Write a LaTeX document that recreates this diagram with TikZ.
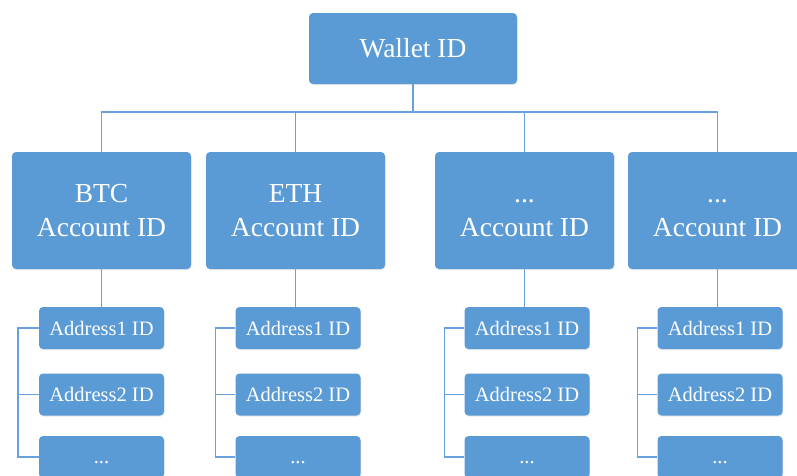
\documentclass[tikz,border=0pt]{standalone}
\usepackage{fontspec}
\setmainfont{Liberation Serif}
\usetikzlibrary{shadows}
\definecolor{boxblue}{RGB}{91,155,213}
\definecolor{lineblue}{RGB}{105,160,222}
\begin{document}
\begin{tikzpicture}
	[ x=1pt, y=-1pt,
	  base/.style={rounded corners=4pt,fill=boxblue,text=white,align=center,inner sep=0pt,
	    drop shadow={opacity=0.18,shadow xshift=0.6pt,shadow yshift=-1.2pt}},
	  wallet/.style={base,minimum width=208pt,minimum height=71pt,font=\fontsize{27.5}{32}\selectfont},
	  account/.style={base,minimum width=179pt,minimum height=117pt,font=\fontsize{27.5}{34}\selectfont},
	  addr/.style={base,minimum width=125pt,minimum height=42pt,font=\fontsize{20.5}{24}\selectfont},
	  link/.style={draw=lineblue,line width=1.6pt} ]

	\useasboundingbox (0,0) rectangle (797,475);

	% top
	\node[wallet] (wallet) at (413,48.5) {Wallet ID};
	\coordinate (bus) at (413,112);

	% accounts
	\node[account] (btc) at (101.5,210.5) {BTC\\Account ID};
	\node[account] (eth) at (295.5,210.5) {ETH\\Account ID};
	\node[account] (acc3) at (524.5,210.5) {\vphantom{B}...\\Account ID};
	\node[account] (acc4) at (717.5,210.5) {\vphantom{B}...\\Account ID};

	% addresses
	\node[addr] (btc1) at (101.5,328) {Address1 ID};
	\node[addr] (btc2) at (101.5,394.5) {Address2 ID};
	\node[addr] (btc3) at (101.5,457) {\vphantom{A}...};
	\node[addr] (eth1) at (298,328) {Address1 ID};
	\node[addr] (eth2) at (298,394.5) {Address2 ID};
	\node[addr] (eth3) at (298,457) {\vphantom{A}...};
	\node[addr] (acc31) at (527,328) {Address1 ID};
	\node[addr] (acc32) at (527,394.5) {Address2 ID};
	\node[addr] (acc33) at (527,457) {\vphantom{A}...};
	\node[addr] (acc41) at (720,328) {Address1 ID};
	\node[addr] (acc42) at (720,394.5) {Address2 ID};
	\node[addr] (acc43) at (720,457) {\vphantom{A}...};

	% wallet to accounts
	\draw[link] (wallet.south) -- (bus);
	\draw[link] (btc.north) |- (bus);
	\draw[link] (eth.north) |- (bus);
	\draw[link] (acc3.north) |- (bus);
	\draw[link] (acc4.north) |- (bus);

	% accounts to addresses
	\draw[link] (btc.south) -- (btc.south |- btc1.north);
	\draw[link] (eth.south) -- (eth.south |- eth1.north);
	\draw[link] (acc3.south) -- (acc3.south |- acc31.north);
	\draw[link] (acc4.south) -- (acc4.south |- acc41.north);

	\draw[link] (btc1.west) -- ++(-21,0) |- (btc3.west);
	\draw[link] (btc2.west) -- ++(-21,0);
	\draw[link] (eth1.west) -- ++(-20,0) |- (eth3.west);
	\draw[link] (eth2.west) -- ++(-20,0);
	\draw[link] (acc31.west) -- ++(-20,0) |- (acc33.west);
	\draw[link] (acc32.west) -- ++(-20,0);
	\draw[link] (acc41.west) -- ++(-20,0) |- (acc43.west);
	\draw[link] (acc42.west) -- ++(-20,0);

\end{tikzpicture}
\end{document}
